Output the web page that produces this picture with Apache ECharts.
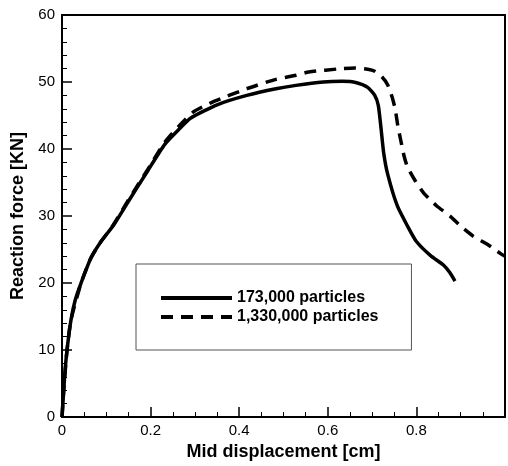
<!DOCTYPE html>
<html>
<head>
<meta charset="utf-8">
<script src="https://cdn.jsdelivr.net/npm/echarts@6/dist/echarts.min.js"></script>
<style>
  html, body { margin: 0; padding: 0; background: #fff; }
  #chart { width: 508px; height: 466px; }
</style>
</head>
<body>
<div id="chart"></div>
<script>
// Reaction force vs. mid displacement for two particle resolutions
const seriesNames = ['173,000 particles', '1,330,000 particles'];

// 173,000 particles: [displacement cm, force KN]
const coarseDisp = [0, 0.002, 0.004, 0.007, 0.0115, 0.02, 0.03, 0.043, 0.065, 0.087, 0.115, 0.15, 0.194, 0.232, 0.268, 0.29, 0.35, 0.417, 0.483, 0.528, 0.59, 0.632, 0.665, 0.69, 0.706, 0.714, 0.72, 0.726, 0.735, 0.757, 0.78, 0.8, 0.832, 0.861, 0.875, 0.887];
const coarseForce = [0, 2, 4.1, 7, 10.1, 14.4, 17.5, 20, 23.7, 26.1, 28.5, 32.2, 36.8, 40.7, 43.2, 44.6, 46.6, 48.0, 49.0, 49.5, 50.0, 50.1, 49.9, 49.2, 48.0, 46.5, 43.2, 39.5, 36.3, 31.5, 28.5, 26.2, 24.1, 22.7, 21.6, 20.3];

// 1,330,000 particles
const fineDisp = [0, 0.004, 0.0115, 0.02, 0.043, 0.065, 0.087, 0.115, 0.15, 0.194, 0.232, 0.268, 0.298, 0.343, 0.417, 0.483, 0.528, 0.557, 0.632, 0.661, 0.69, 0.706, 0.722, 0.735, 0.745, 0.752, 0.758, 0.765, 0.772, 0.78, 0.798, 0.817, 0.846, 0.876, 0.9, 0.928, 0.96, 0.99, 1.0];
const fineForce = [0, 4.1, 10.1, 14.4, 20, 23.7, 26.1, 28.6, 32.4, 37.0, 41.0, 43.7, 45.6, 47.1, 49.0, 50.4, 51.0, 51.5, 52.0, 52.1, 51.9, 51.6, 50.8, 49.6, 47.8, 46.0, 43.5, 41.2, 39.0, 37.3, 35.2, 33.4, 31.5, 30.0, 28.5, 27.0, 25.8, 24.4, 24.0];

// Tick labels shown on each axis
const xTickLabels = [0, 0.2, 0.4, 0.6, 0.8];
const yTickLabels = [0, 10, 20, 30, 40, 50, 60];

const pairs = (xs, ys) => xs.map((x, i) => [x, ys[i]]);
const font = 'Liberation Sans, Arial, Helvetica, sans-serif';

const chart = echarts.init(document.getElementById('chart'), null, { renderer: 'canvas' });

const axisCommon = {
  axisLine: { show: true, onZero: false, lineStyle: { color: '#000', width: 2 } },
  axisTick: { show: true, inside: true, length: 10, lineStyle: { color: '#000', width: 1.5 } },
  minorTick: { show: true, length: 5, lineStyle: { color: '#000', width: 1 } },
  splitLine: { show: false },
  nameLocation: 'middle',
  nameTextStyle: { color: '#000', fontFamily: font, fontWeight: 'bold', fontSize: 18 }
};

const dashPattern = [12, 8];

chart.setOption({
  backgroundColor: '#fff',
  animation: false,
  grid: {
    left: 62, top: 15, width: 450, height: 410,
    show: true, borderColor: '#000', borderWidth: 2, backgroundColor: 'transparent'
  },
  legend: {
    orient: 'vertical',
    left: 136, top: 264,
    padding: [26, 33, 25, 23],
    itemGap: 3,
    itemWidth: 71,
    itemHeight: 14,
    borderColor: '#555',
    borderWidth: 1,
    backgroundColor: '#fff',
    itemStyle: { opacity: 0 },
    lineStyle: { width: 4, color: '#000', cap: 'butt' },
    textStyle: { color: '#000', fontFamily: font, fontWeight: 'bold', fontSize: 16 },
    data: seriesNames
  },
  xAxis: Object.assign({}, axisCommon, {
    type: 'value', min: 0, max: 1.0, interval: 0.2,
    minorTick: Object.assign({}, axisCommon.minorTick, { splitNumber: 4 }),
    name: 'Mid displacement [cm]', nameGap: 19,
    axisLabel: {
      color: '#000', fontFamily: font, fontSize: 15, margin: 6,
      formatter: v => xTickLabels.some(t => Math.abs(t - v) < 1e-9) ? String(+v.toFixed(1)) : ''
    }
  }),
  yAxis: Object.assign({}, axisCommon, {
    type: 'value', min: 0, max: 60, interval: 10,
    minorTick: Object.assign({}, axisCommon.minorTick, { splitNumber: 5 }),
    name: 'Reaction force [KN]', nameGap: 29,
    axisLabel: {
      color: '#000', fontFamily: font, fontSize: 15, margin: 7,
      formatter: v => yTickLabels.includes(v) ? String(v) : ''
    }
  }),
  series: [
    {
      name: seriesNames[1], type: 'line', data: pairs(fineDisp, fineForce),
      symbol: 'none', smooth: 0.2, clip: true,
      lineStyle: { color: '#000', width: 3.5, type: dashPattern, cap: 'butt' },
      itemStyle: { color: '#000' }
    },
    {
      name: seriesNames[0], type: 'line', data: pairs(coarseDisp, coarseForce),
      symbol: 'none', smooth: 0.2, clip: true,
      lineStyle: { color: '#000', width: 3.5, type: 'solid' },
      itemStyle: { color: '#000' }
    }
  ]
});
</script>
</body>
</html>
